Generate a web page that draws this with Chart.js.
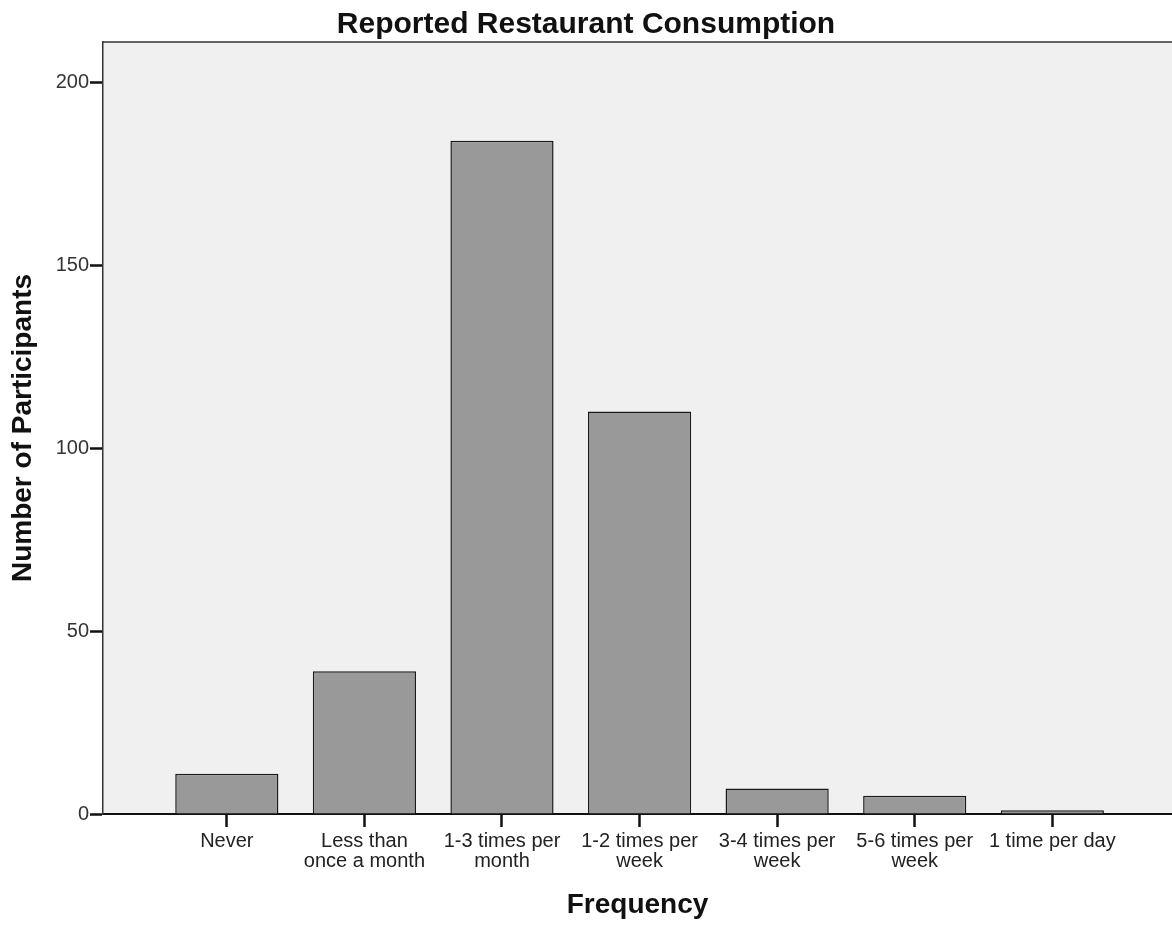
<!DOCTYPE html>
<html>
<head>
<meta charset="utf-8">
<script src="https://cdn.jsdelivr.net/npm/chart.js@4/dist/chart.umd.min.js"></script>
<style>
  html, body { margin: 0; padding: 0; background: #fff; }
  canvas { display: block; }
</style>
</head>
<body>
<canvas id="chart" width="1172" height="926"></canvas>
<script>
/* DATOS DEL GRAFICO */
const categories = ['Never', 'Less than once a month', '1-3 times per month', '1-2 times per week', '3-4 times per week', '5-6 times per week', '1 time per day']
const tickLabels = [['Never'], ['Less than', 'once a month'], ['1-3 times per', 'month'], ['1-2 times per', 'week'], ['3-4 times per', 'week'], ['5-6 times per', 'week'], ['1 time per day']]
const participants = [11, 39, 184, 110, 7, 5, 1]
const yTicks = [0, 50, 100, 150, 200]

const font = 'Arial, "Liberation Sans", sans-serif'

/* FONDO GRIS DEL AREA Y LINEA SUPERIOR */
const plotBackground = {
    id: 'plotBackground',
    beforeDraw: (chart) => {
        const { ctx, chartArea: a } = chart
        ctx.save()
        ctx.fillStyle = '#f0f0f0'
        ctx.fillRect(a.left, a.top, a.right - a.left, a.bottom - a.top)
        ctx.strokeStyle = '#333'
        ctx.lineWidth = 1.5
        ctx.beginPath()
        ctx.moveTo(a.left, a.top)
        ctx.lineTo(a.right, a.top)
        ctx.stroke()
        ctx.restore()
    }
}

const data = participants.map((v, i) => ({ x: i, y: v }))

new Chart(document.querySelector('#chart'), {
    type: 'bar',
    data: {
        datasets: [{
            label: 'Number of Participants',
            data,
            backgroundColor: '#999999',
            borderColor: '#1a1a1a',
            borderWidth: 1.5,
            barPercentage: 0.75,
            categoryPercentage: 1
        }]
    },
    options: {
        responsive: false,
        animation: false,
        layout: { padding: 0 },
        plugins: {
            legend: { display: false },
            tooltip: { enabled: false },
            title: {
                display: true,
                text: 'Reported Restaurant Consumption',
                color: '#111',
                font: { family: font, size: 30, weight: 'bold', lineHeight: 1.0 },
                padding: { top: 10, bottom: 2 }
            }
        },
        scales: {
            x: {
                type: 'linear',
                min: -0.9,
                max: 6.87,
                offset: false,
                afterBuildTicks: (scale) => { scale.ticks = categories.map((c, i) => ({ value: i })) },
                afterFit: (scale) => { scale.height = 112 },
                grid: { offset: false, drawOnChartArea: false, drawTicks: true, tickLength: 13, tickWidth: 2.5, tickColor: '#111' },
                border: { color: '#111', width: 2 },
                ticks: {
                    autoSkip: false,
                    maxRotation: 0,
                    padding: 4,
                    color: '#222',
                    font: { family: font, size: 20, lineHeight: 1.0 },
                    callback: (value) => tickLabels[value]
                },
                title: {
                    display: true,
                    text: 'Frequency',
                    color: '#111',
                    font: { family: font, size: 28, weight: 'bold' },
                    padding: { top: 0, bottom: 4 }
                }
            },
            y: {
                min: 0,
                max: 211,
                afterBuildTicks: (scale) => { scale.ticks = yTicks.map(v => ({ value: v })) },
                afterFit: (scale) => { scale.width = 103 },
                grid: { drawOnChartArea: false, drawTicks: true, tickLength: 13, tickWidth: 2.5, tickColor: '#111' },
                border: { color: '#333', width: 1.5 },
                ticks: {
                    padding: 1,
                    color: '#333',
                    font: { family: font, size: 20 }
                },
                title: {
                    display: true,
                    text: 'Number of Participants',
                    color: '#111',
                    font: { family: font, size: 28, weight: 'bold' },
                    padding: { top: 6, bottom: 0 }
                }
            }
        }
    },
    plugins: [plotBackground]
})
</script>
</body>
</html>
